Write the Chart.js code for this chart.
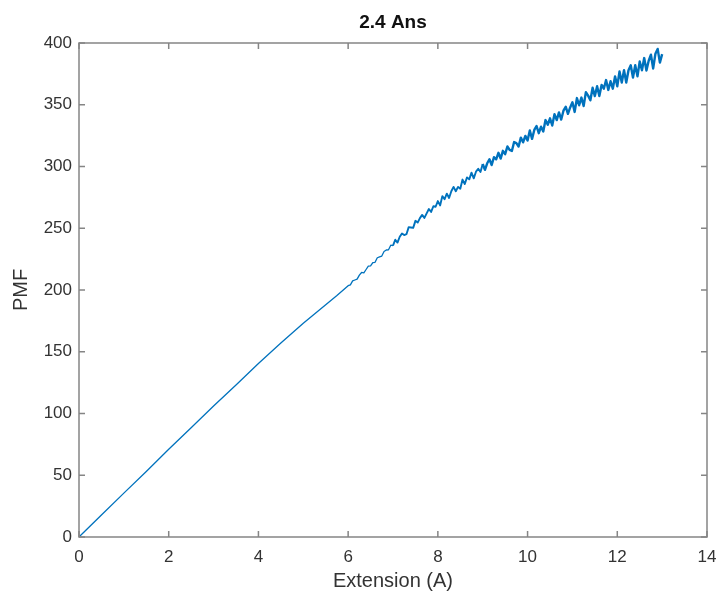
<!DOCTYPE html>
<html lang="en">
<head>
    <meta charset="UTF-8">
    <title>2.4 Ans</title>
    <script src="https://cdn.jsdelivr.net/npm/chart.js"></script>
    <style>
        body { margin: 0; background: #fff; }
    </style>
</head>
<body>
    <canvas id="pmfChart" width="717" height="597"></canvas>

    <script>
        // extension values (A)
        const extension = [
            0, 0.5, 1, 1.5, 2, 2.5, 3, 3.5, 4, 4.5, 5, 5.25, 5.5, 5.75,
            6.00, 6.05, 6.10, 6.15, 6.20, 6.25, 6.30, 6.35, 6.40, 6.45,
            6.50, 6.55, 6.60, 6.65, 6.70, 6.75, 6.80, 6.85, 6.90, 6.95,
            7.00, 7.05, 7.10, 7.15, 7.20, 7.25, 7.30, 7.35, 7.40, 7.45,
            7.50, 7.55, 7.60, 7.65, 7.70, 7.75, 7.80, 7.85, 7.90, 7.95,
            8.00, 8.05, 8.10, 8.15, 8.20, 8.25, 8.30, 8.35, 8.40, 8.45,
            8.50, 8.55, 8.60, 8.65, 8.70, 8.75, 8.80, 8.85, 8.90, 8.95,
            9.00, 9.05, 9.10, 9.15, 9.20, 9.25, 9.30, 9.35, 9.40, 9.45,
            9.50, 9.55, 9.60, 9.65, 9.70, 9.75, 9.80, 9.85, 9.90, 9.95,
            10.00, 10.05, 10.10, 10.15, 10.20, 10.25, 10.30, 10.35, 10.40, 10.45,
            10.50, 10.55, 10.60, 10.65, 10.70, 10.75, 10.80, 10.85, 10.90, 10.95,
            11.00, 11.05, 11.10, 11.15, 11.20, 11.25, 11.30, 11.35, 11.40, 11.45,
            11.50, 11.55, 11.60, 11.65, 11.70, 11.75, 11.80, 11.85, 11.90, 11.95,
            12.00, 12.05, 12.10, 12.15, 12.20, 12.25, 12.30, 12.35, 12.40, 12.45,
            12.50, 12.55, 12.60, 12.65, 12.70, 12.75, 12.80, 12.85, 12.90, 12.95,
            13.00
        ];

        // PMF values matching extension above
        const pmf = [
            0, 17.8, 35.5, 53, 71, 88.5, 106, 123, 140.5, 157, 173, 180.5, 188, 195.5,
            203.5, 204.2, 207.4, 208.1, 208.8, 212, 214.2, 213.9, 216.6, 219.3,
            219.5, 222.2, 222.4, 226.1, 226.8, 227.5, 231.2, 232.4, 232.6, 236.3,
            236, 240.7, 238.4, 243.1, 245.8, 244.5, 245.2, 250.9, 250.6, 250.3,
            256, 254.6, 258.2, 260.8, 258.4, 262, 265.6, 263.2, 267.8, 267.4,
            272, 268.5, 276, 273.5, 278, 274.5, 280, 283.5, 280, 283.5,
            282, 289.4, 285.8, 291.2, 289.6, 295, 290.4, 295.8, 298.2, 295.6,
            302, 297.3, 302.6, 305.9, 301.2, 307.5, 305.8, 311.1, 306.4, 312.7,
            310, 316.2, 313.4, 312.6, 319.8, 319, 316.2, 323.4, 319.6, 324.8,
            321, 329.2, 322.4, 329.6, 332.8, 327, 332.2, 328.4, 337.6, 333.8,
            339, 333.2, 342.4, 337.6, 343.8, 338, 345.2, 348.4, 342.6, 347.8,
            352, 344.2, 355.4, 349.6, 355.8, 349, 360.2, 357.4, 353.6, 363.8,
            357, 365, 357, 366, 363, 370, 362, 369, 363, 373,
            365, 377, 368, 378, 368, 378, 382, 372, 382, 373,
            385, 377.9, 387.8, 377.7, 385.6, 390.5, 379.4, 391.3, 395.2, 384.1,
            391
        ];

        const xTicks = [0, 2, 4, 6, 8, 10, 12, 14];
        const yTicks = [0, 50, 100, 150, 200, 250, 300, 350, 400];
        const chartTitle = '2.4 Ans';

        const axisColor = '#858585';
        const textColor = '#333333';
        const fontFamily = 'Liberation Sans, Arial, sans-serif';

        // MATLAB style box with inward ticks on all four sides, title over the plot box
        const boxPlugin = {
            id: 'boxPlugin',
            afterDraw(chart) {
                const c = chart.ctx;
                const a = chart.chartArea;
                const xs = chart.scales.x;
                const ys = chart.scales.y;
                c.save();
                c.strokeStyle = axisColor;
                c.lineWidth = 1.5;
                c.strokeRect(a.left, a.top, a.right - a.left, a.bottom - a.top);
                c.beginPath();
                xTicks.forEach(v => {
                    const px = xs.getPixelForValue(v);
                    c.moveTo(px, a.bottom); c.lineTo(px, a.bottom - 6);
                    c.moveTo(px, a.top); c.lineTo(px, a.top + 6);
                });
                yTicks.forEach(v => {
                    const py = ys.getPixelForValue(v);
                    c.moveTo(a.left, py); c.lineTo(a.left + 6, py);
                    c.moveTo(a.right, py); c.lineTo(a.right - 6, py);
                });
                c.stroke();

                c.fillStyle = '#111';
                c.font = 'bold 19px ' + fontFamily;
                c.textAlign = 'center';
                c.textBaseline = 'middle';
                c.fillText(chartTitle, (a.left + a.right) / 2, 23);
                c.restore();
            }
        };

        const points = extension.map((x, i) => ({ x: x, y: pmf[i] }));

        function segWidth(ctx) {
            const x = ctx.p0.parsed.x;
            if (x >= 9) return 2.4;
            if (x >= 7) return 1.9;
            return 1.3;
        }

        new Chart(document.getElementById('pmfChart'), {
            type: 'line',
            data: {
                datasets: [{
                    data: points,
                    borderColor: '#0072BD',
                    borderWidth: 1.3,
                    borderJoinStyle: 'round',
                    pointRadius: 0,
                    tension: 0,
                    fill: false,
                    segment: { borderWidth: segWidth }
                }]
            },
            options: {
                responsive: false,
                animation: false,
                layout: { padding: { left: 0, right: 0, top: 43, bottom: 0 } },
                plugins: {
                    legend: { display: false },
                    tooltip: { enabled: false },
                    title: { display: false }
                },
                scales: {
                    x: {
                        type: 'linear',
                        min: 0,
                        max: 14,
                        afterFit(scale) {
                            scale.height = 60;
                            scale.paddingLeft = 0;
                            scale.paddingRight = 10;
                        },
                        afterBuildTicks(scale) { scale.ticks = xTicks.map(v => ({ value: v })); },
                        grid: { display: false, drawTicks: false },
                        border: { display: false },
                        ticks: {
                            color: textColor,
                            padding: 10,
                            maxRotation: 0,
                            font: { family: fontFamily, size: 17 }
                        },
                        title: {
                            display: true,
                            text: 'Extension (A)',
                            color: textColor,
                            padding: { top: 2, bottom: 4 },
                            font: { family: fontFamily, size: 20 }
                        }
                    },
                    y: {
                        min: 0,
                        max: 400,
                        afterFit(scale) { scale.width = 79; },
                        afterBuildTicks(scale) { scale.ticks = yTicks.map(v => ({ value: v })); },
                        grid: { display: false, drawTicks: false },
                        border: { display: false },
                        ticks: {
                            color: textColor,
                            padding: 7,
                            font: { family: fontFamily, size: 17 }
                        },
                        title: {
                            display: true,
                            text: 'PMF',
                            color: textColor,
                            padding: { top: 9, bottom: 0 },
                            font: { family: fontFamily, size: 20 }
                        }
                    }
                }
            },
            plugins: [boxPlugin]
        });
    </script>
</body>
</html>
